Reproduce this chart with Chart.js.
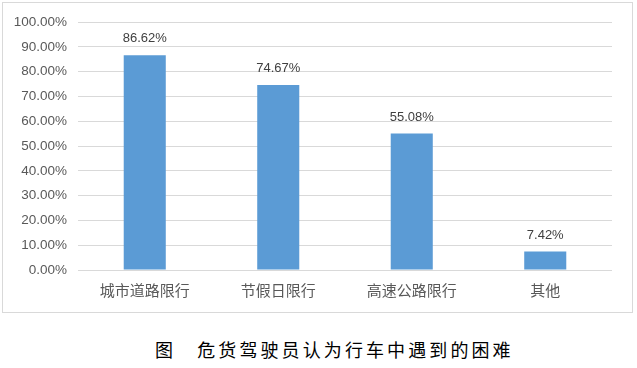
<!DOCTYPE html>
<html>
<head>
<meta charset="utf-8">
<script src="https://cdn.jsdelivr.net/npm/chart.js@4/dist/chart.umd.min.js"></script>
<style>
    body { margin: 0; background: #fff; }
    #box {
        position: absolute; left: 2px; top: 2px; width: 629px; height: 309px;
        border: 1px solid #D9D9D9;
    }
    #title {
        position: absolute; left: 155px; top: 336px; white-space: nowrap;
        font-family: "Noto Sans CJK SC", sans-serif; font-size: 18px; letter-spacing: 3.1px;
        color: #000;
    }
</style>
</head>
<body>
<div id="box"><canvas id="myChart" width="629" height="309"></canvas></div>
<div id="title">图　危货驾驶员认为行车中遇到的困难</div>
<script>
// Data

var categories = ["城市道路限行", "节假日限行", "高速公路限行", "其他"];
var percents = [86.62, 74.67, 55.08, 7.42];
var yTicks = [0, 10, 20, 30, 40, 50, 60, 70, 80, 90, 100];

// Value labels above bars

var barLabels = {
    id: 'barLabels',
    afterDatasetsDraw: function (chart) {
        var ctx = chart.ctx;
        var meta = chart.getDatasetMeta(0);
        ctx.save();
        ctx.font = '13px "Liberation Sans", Arial, sans-serif';
        ctx.fillStyle = '#404040';
        ctx.textAlign = 'center';
        ctx.textBaseline = 'bottom';
        meta.data.forEach(function (bar, i) {
            ctx.fillText(percents[i].toFixed(2) + '%', bar.x, bar.y - 10);
        });
        ctx.restore();
    }
};

// Graph

var ctx = document.getElementById('myChart').getContext('2d');
var chart = new Chart(ctx, {
    type: 'bar',
    data: {
        labels: categories,
        datasets: [{
            data: percents,
            backgroundColor: '#5B9BD5',
            barPercentage: 0.315,
            categoryPercentage: 1
        }]
    },
    options: {
        responsive: false,
        animation: false,
        layout: { padding: { top: 18, right: 20, bottom: 0, left: 0 } },
        plugins: {
            legend: { display: false },
            tooltip: { enabled: false }
        },
        scales: {
            x: {
                grid: { display: false },
                border: { display: false },
                ticks: {
                    color: '#595959',
                    padding: 3,
                    font: { family: '"Noto Sans CJK SC", sans-serif', size: 15 }
                },
                afterFit: function (scale) { scale.height = 42; }
            },
            y: {
                min: 0,
                max: 100,
                afterBuildTicks: function (scale) {
                    scale.ticks = yTicks.map(function (v) { return { value: v }; });
                },
                grid: { color: '#D9D9D9', drawTicks: false },
                border: { display: false },
                ticks: {
                    color: '#595959',
                    padding: 11,
                    font: { family: '"Liberation Sans", Arial, sans-serif', size: 13.5 },
                    callback: function (v) { return v.toFixed(2) + '%'; }
                },
                afterFit: function (scale) { scale.width = 75; }
            }
        }
    },
    plugins: [barLabels]
});
</script>
</body>
</html>
